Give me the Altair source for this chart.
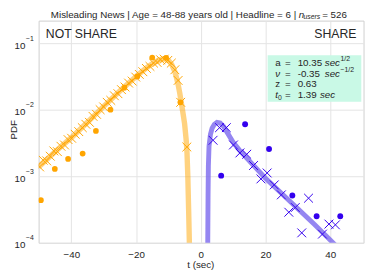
import altair as alt
import pandas as pd

FONT = "Liberation Sans"
TXT = "#262626"

# ---------------- data ----------------
# NOT SHARE (t < 0), orange
ns_line_t = [-50.1, -45, -40, -35, -30, -25, -20, -17, -15, -13, -11.5, -10, -9, -8, -7.5,
             -7, -6.5, -6, -5.5, -5, -4.5, -4.25, -4.0, -3.75, -3.5]
ns_line_pdf = [1.38e-3, 2.34e-3, 3.80e-3, 6.46e-3, 1.12e-2, 1.91e-2, 3.16e-2, 4.17e-2, 4.90e-2,
               5.56e-2, 5.82e-2, 5.50e-2, 4.79e-2, 3.72e-2, 3.02e-2, 2.40e-2, 1.78e-2, 1.26e-2,
               8.91e-3, 6.17e-3, 3.47e-3, 2.24e-3, 1.0e-3, 3.16e-4, 8.9e-5]

ns_dot_t = [-49.4, -45.1, -41.0, -36.5, -32.4, -27.9, -23.6, -19.6, -15.0, -10.7, -6.3]
ns_dot_pdf = [4.37e-4, 1.29e-3, 1.82e-3, 2.19e-3, 4.79e-3, 1.00e-2, 2.14e-2, 3.16e-2,
              6.08e-2, 6.03e-2, 1.29e-2]

ns_cross_t = [-49.8, -48.7, -47.6, -46.5, -45.4, -44.3, -43.2, -42.1, -41.0, -39.9, -38.8,
              -37.7, -36.6, -35.5, -34.4, -33.3, -32.2, -31.1, -30.0, -28.9, -27.8, -26.7,
              -25.6, -24.5, -23.4, -22.3, -21.2, -20.1, -19.0, -17.9, -16.8, -15.7, -14.6,
              -13.5, -12.4, -11.3, -10.2, -9.1, -8.0, -7.0, -6.2, -4.3]
ns_cross_pdf = [1.38e-3, 1.74e-3, 1.70e-3, 2.00e-3, 2.40e-3, 2.34e-3, 2.82e-3, 2.95e-3,
                3.55e-3, 3.72e-3, 4.27e-3, 4.68e-3, 5.37e-3, 6.03e-3, 6.46e-3, 7.94e-3,
                8.51e-3, 1.00e-2, 1.10e-2, 1.29e-2, 1.38e-2, 1.62e-2, 1.74e-2, 2.00e-2,
                2.19e-2, 2.51e-2, 2.69e-2, 3.09e-2, 3.39e-2, 3.72e-2, 4.17e-2, 4.47e-2,
                5.01e-2, 5.13e-2, 5.62e-2, 5.75e-2, 5.50e-2, 5.01e-2, 3.98e-2, 2.75e-2,
                1.29e-2, 2.75e-3]

# SHARE (t > 0), purple
sh_line_t = [2.15, 2.25, 2.35, 2.55, 3.0, 3.5, 4.2, 5.0, 6.0, 7.0, 8.0, 10.0, 12.0, 15.0,
             20.0, 25.0, 30.0, 35.0, 40.0, 41.5]
sh_line_pdf = [8.9e-5, 5.0e-4, 1.41e-3, 2.82e-3, 4.27e-3, 5.25e-3, 6.03e-3, 6.46e-3, 6.31e-3,
               5.62e-3, 4.68e-3, 3.24e-3, 2.45e-3, 1.70e-3, 9.33e-4, 5.50e-4, 3.24e-4,
               1.91e-4, 1.10e-4, 9.3e-5]

sh_dot_t = [6.3, 13.7, 21.1, 28.3, 35.8, 43.1]
sh_dot_pdf = [1.02e-3, 6.03e-3, 2.57e-3, 5.13e-4, 2.51e-4, 2.51e-4]

sh_cross_t = [3.8, 5.8, 7.9, 10.1, 12.1, 14.2, 16.3, 18.6, 20.5, 22.7, 24.9, 27.2, 29.2,
              31.2, 33.3, 37.6, 39.6, 41.6]
sh_cross_pdf = [3.47e-3, 5.37e-3, 5.37e-3, 2.95e-3, 2.24e-3, 2.14e-3, 1.45e-3, 9.12e-4,
                1.12e-3, 7.41e-4, 5.25e-4, 2.88e-4, 3.39e-4, 1.41e-4, 4.68e-4, 1.35e-4,
                1.91e-4, 1.86e-4]

x_ticks = [-40, -20, 0, 20, 40]
y_ticks = [1e-4, 1e-3, 1e-2, 1e-1]
y_tick_exp = ["\u22124", "\u22123", "\u22122", "\u22121"]

title_main = "Misleading News |  Age = 48-88 years old | Headline = 6 |"
title_n, title_sub, title_end = "n", "users", "= 526"
params = [("a", "10.35", "sec", "1/2"), ("\u03bd", "-0.35", "sec", "\u22121/2"),
          ("z", "0.63", "", ""), ("t", "1.39", "sec", "")]

# ---------------- chart ----------------
X_DOMAIN = [-50.1, 50.3]
Y_DOMAIN = [1e-4, 0.2178]
xscale = alt.Scale(domain=X_DOMAIN, nice=False, zero=False)
yscale = alt.Scale(type="log", domain=Y_DOMAIN, nice=False)
xenc = alt.X("t:Q", scale=xscale,
             axis=alt.Axis(values=x_ticks, grid=True, ticks=False, domain=False,
                           labelFontSize=10, labelPadding=7, title=None, format="d"))
yenc = alt.Y("pdf:Q", scale=yscale,
             axis=alt.Axis(values=y_ticks, grid=True, ticks=False, domain=False,
                           labels=False, title=None))

def df(t, p):
    return pd.DataFrame({"t": t, "pdf": p})

XPATH = "M-1,-1L1,1M-1,1L1,-1"
ORANGE = "#FFA500"
PURPLE_LINE = "#7B68EE"
PURPLE = "#3300EE"

ns_line = alt.Chart(df(ns_line_t, ns_line_pdf)).mark_line(
    color=ORANGE, opacity=0.5, strokeWidth=5.5, clip=True).encode(x=xenc, y=yenc)
sh_line = alt.Chart(df(sh_line_t, sh_line_pdf)).mark_line(
    color=PURPLE_LINE, opacity=0.8, strokeWidth=5, clip=True).encode(x=xenc, y=yenc)
ns_cross = alt.Chart(df(ns_cross_t, ns_cross_pdf)).mark_point(
    shape=XPATH, size=81, filled=False, strokeWidth=1, color=ORANGE, opacity=1,
    clip=True).encode(x=xenc, y=yenc)
sh_cross = alt.Chart(df(sh_cross_t, sh_cross_pdf)).mark_point(
    shape=XPATH, size=81, filled=False, strokeWidth=1, color=PURPLE, opacity=1,
    clip=True).encode(x=xenc, y=yenc)
ns_dot = alt.Chart(df(ns_dot_t, ns_dot_pdf)).mark_circle(
    size=34, color=ORANGE, opacity=1, clip=True).encode(x=xenc, y=yenc)
sh_dot = alt.Chart(df(sh_dot_t, sh_dot_pdf)).mark_circle(
    size=36, color=PURPLE, opacity=1, clip=True).encode(x=xenc, y=yenc)

dummy = pd.DataFrame({"k": [0]})

def txt(s, x, y, size=10, italic=False, align="left", baseline="alphabetic", angle=None):
    kw = dict(text=s, align=align, baseline=baseline, fontSize=size, font=FONT, color=TXT)
    if italic:
        kw["fontStyle"] = "italic"
    if angle is not None:
        kw["angle"] = angle
    return alt.Chart(dummy).mark_text(**kw).encode(x=alt.value(x), y=alt.value(y))

box = alt.Chart(dummy).mark_rect(color="#c9f9e6", opacity=1).encode(
    x=alt.value(234), x2=alt.value(329.7), y=alt.value(35.3), y2=alt.value(83))

ytl = pd.DataFrame({"pdf": y_ticks, "exp": y_tick_exp, "base": ["10"] * 4})
ybase = alt.Chart(ytl).mark_text(align="right", baseline="middle", dy=2.5, fontSize=10,
                                 font=FONT, color=TXT).encode(
    x=alt.value(-13.6), y=yenc, text="base:N")
ysup = alt.Chart(ytl).mark_text(align="left", baseline="middle", dy=-4.5, fontSize=7,
                                font=FONT, color=TXT).encode(
    x=alt.value(-13.0), y=yenc, text="exp:N")

texts = [
    txt(title_main, 263.2, -2.8, align="right"),
    txt(title_n, 265.7, -2.8, italic=True),
    txt(title_sub, 270.7, -1.4, size=7, italic=True),
    txt(title_end, 289.7, -2.8),
    txt("NOT SHARE", 7.4, 18, size=12.5),
    txt("SHARE", 324.7, 18, size=12.5, align="right"),
    txt("PDF", -25.5, 111.5, angle=270, align="center", baseline="middle"),
    txt("t (sec)", 165.7, 253.0, align="center"),
]
bl = [46, 57.1, 68.2, 79.3]
for i, (sym, val, unit, sup) in enumerate(params):
    y = bl[i]
    texts.append(txt(sym, 241.7, y, italic=(sym in ("\u03bd", "t"))))
    if sym == "t":
        texts.append(txt("0", 244.6, y + 1.5, size=7))
    texts.append(txt("=", 251.7, y))
    texts.append(txt(val, 264.7, y))
    if unit:
        texts.append(txt(unit, 292.4 if sup else 287.4, y, italic=True))
    if sup:
        texts.append(txt(sup, 308.4, y - 4.7, size=7))

chart = alt.layer(ns_line, sh_line, ns_cross, sh_cross, ns_dot, sh_dot, box, ybase, ysup,
                  *texts).properties(
    width=332, height=227,
    padding={"left": 31.3, "top": 10, "right": 2.5, "bottom": 30},
    autosize=alt.AutoSizeParams(type="none"),
    background="white",
).configure_view(stroke="#cfcfcf", strokeWidth=1).configure_axis(
    gridColor="#e3e3e3", gridWidth=1, labelFont=FONT, labelColor=TXT, titleFont=FONT)

chart.save("out.html", embed_options={"renderer": "svg", "actions": False})
